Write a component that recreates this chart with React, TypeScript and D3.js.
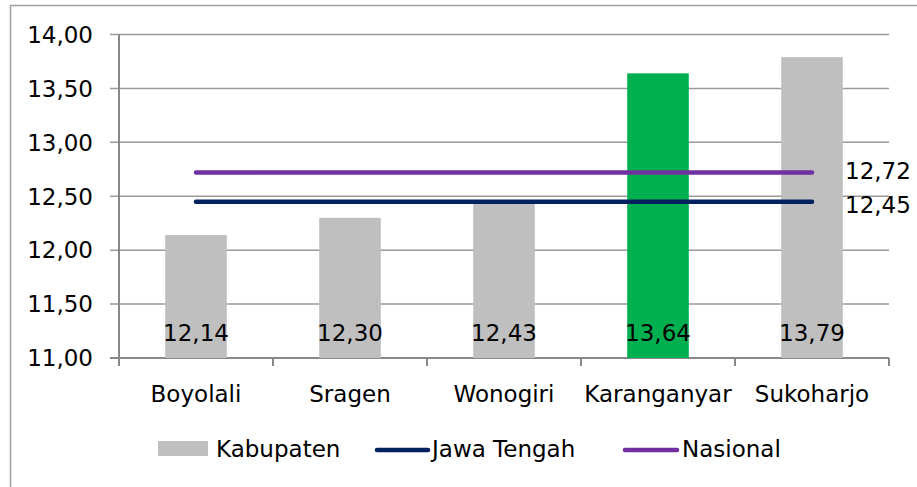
import React from "react";
import * as d3 from "d3";

const categories = ["Boyolali", "Sragen", "Wonogiri", "Karanganyar", "Sukoharjo"];
const kabupatenValues = [12.14, 12.3, 12.43, 13.64, 13.79];
const highlightCategory = "Karanganyar";
const jawaTengahValue = 12.45;
const nasionalValue = 12.72;
const yTicks = [11, 11.5, 12, 12.5, 13, 13.5, 14];
const seriesNames = ["Kabupaten", "Jawa Tengah", "Nasional"];

const W = 917;
const H = 487;
const FONT = "'DejaVu Sans', Verdana, sans-serif";
const FS = 23;

const locale = d3.formatLocale({ decimal: ",", thousands: ".", grouping: [3], currency: ["", ""] });
const fmt = locale.format(".2f");

export default function App() {
  const x = d3.scaleBand<string>().domain(categories).range([119, 889]).padding(0);
  const y = d3.scaleLinear().domain([11, 14]).range([358, 34.5]);
  const bw = x.bandwidth();
  const barW = bw * 0.4;
  const cx = (c: string) => (x(c) as number) + bw / 2;

  const line = d3
    .line<number>()
    .x((d) => d)
    .y(() => 0);
  const x0 = cx(categories[0]);
  const x1 = cx(categories[categories.length - 1]);
  const refLines = [
    { name: "Nasional", value: nasionalValue, color: "#7030A0" },
    { name: "Jawa Tengah", value: jawaTengahValue, color: "#002060" },
  ];

  const gray = "#BFBFBF";
  const green = "#00B050";
  const gridColor = "#9A9A9A";
  const axisColor = "#888888";

  const boundaries = [...categories.map((c) => x(c) as number), 889];

  return (
    <svg width={W} height={H} style={{ position: "absolute", left: 0, top: 0, background: "#fff" }} fontFamily={FONT}>
      <rect x={0} y={0} width={W} height={H} fill="#fff" />
      <rect x={10.5} y={5.5} width={W + 20} height={H + 20} fill="none" stroke="#A0A0A0" strokeWidth={1.5} />
      {/* gridlines */}
      {yTicks.map((t) => (
        <g key={t}>
          <line x1={110} x2={889} y1={y(t)} y2={y(t)} stroke={t === 11 ? axisColor : gridColor} strokeWidth={t === 11 ? 2 : 1.5} />
          <text x={93} y={y(t)} dy="0.36em" textAnchor="end" fontSize={FS} fill="#000">
            {fmt(t)}
          </text>
        </g>
      ))}
      {/* y axis */}
      <line x1={119} x2={119} y1={y(14)} y2={y(11) + 8} stroke={axisColor} strokeWidth={2} />
      {/* x ticks */}
      {boundaries.map((b, i) => (
        <line key={i} x1={b} x2={b} y1={y(11)} y2={y(11) + 8} stroke={axisColor} strokeWidth={2} />
      ))}
      {/* bars */}
      {categories.map((c, i) => (
        <rect
          key={c}
          x={cx(c) - barW / 2}
          y={y(kabupatenValues[i])}
          width={barW}
          height={y(11) - y(kabupatenValues[i])}
          fill={c === highlightCategory ? green : gray}
        />
      ))}
      {/* reference lines */}
      {refLines.map((r) => (
        <g key={r.name} transform={`translate(0,${y(r.value)})`}>
          <path d={line([x0, x1]) as string} stroke={r.color} strokeWidth={4.5} strokeLinecap="round" fill="none" />
        </g>
      ))}
      {refLines.map((r, i) => (
        <text key={r.name} x={845} y={y(r.value) + (i === 0 ? -2 : 3)} dy="0.36em" fontSize={FS} fill="#000">
          {fmt(r.value)}
        </text>
      ))}
      {/* bar value labels */}
      {categories.map((c, i) => (
        <text key={c} x={cx(c)} y={341} textAnchor="middle" fontSize={FS} fill="#000">
          {fmt(kabupatenValues[i])}
        </text>
      ))}
      {/* category labels */}
      {categories.map((c) => (
        <text key={c} x={cx(c)} y={402} textAnchor="middle" fontSize={FS} fill="#000">
          {c}
        </text>
      ))}
      {/* legend */}
      <g>
        <rect x={158} y={441} width={50} height={15} fill={gray} />
        <text x={216} y={449} dy="0.36em" fontSize={FS} fill="#000">
          {seriesNames[0]}
        </text>
        <line x1={377} x2={428} y1={450} y2={450} stroke="#002060" strokeWidth={4.5} strokeLinecap="round" />
        <text x={432} y={449} dy="0.36em" fontSize={FS} fill="#000">
          {seriesNames[1]}
        </text>
        <line x1={625} x2={677} y1={450} y2={450} stroke="#7030A0" strokeWidth={4.5} strokeLinecap="round" />
        <text x={682} y={449} dy="0.36em" fontSize={FS} fill="#000">
          {seriesNames[2]}
        </text>
      </g>
    </svg>
  );
}
